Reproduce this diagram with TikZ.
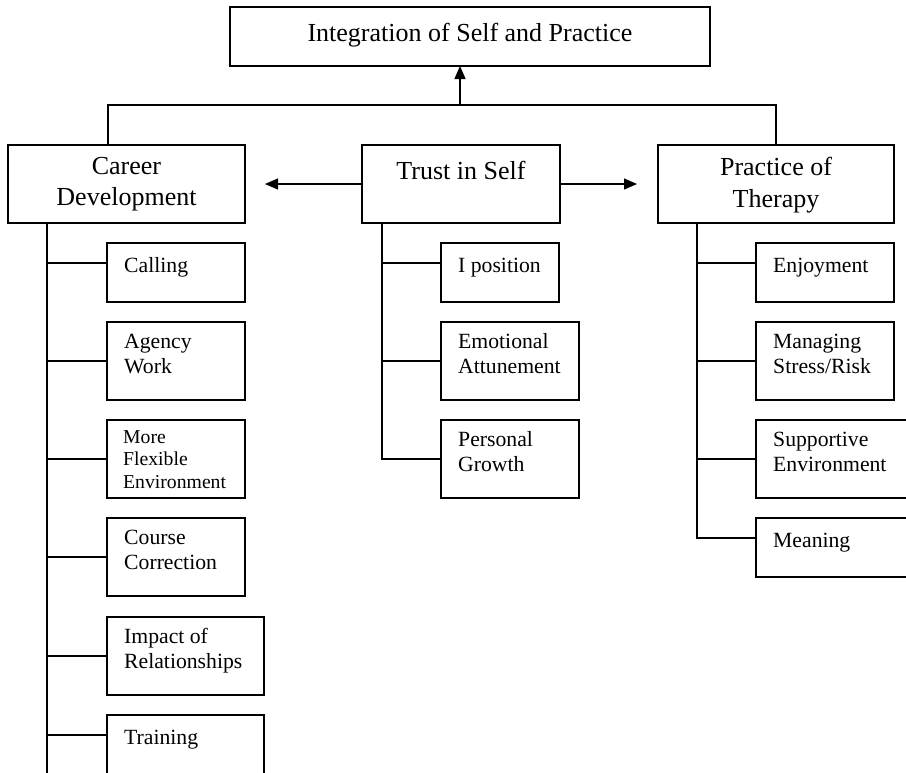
\documentclass[tikz,border=0pt]{standalone}
\usepackage{fontspec}
\setmainfont{Liberation Serif}
\usetikzlibrary{arrows.meta,calc}
\tikzset{
  box/.style={draw, line width=1.3pt, inner sep=0pt, outer sep=0pt, anchor=north west},
  headtxt/.style={font=\fontsize{26}{31.5}\selectfont, align=center, anchor=north,
    inner sep=0pt, execute at begin node=\strut},
  subtxt/.style={font=\fontsize{21.7}{25}\selectfont, align=left, anchor=north west,
    inner sep=0pt, execute at begin node=\strut},
  smalltxt/.style={subtxt, font=\fontsize{19.7}{22.5}\selectfont},
  link/.style={line width=1.3pt},
  arr/.style={link, -{Triangle[length=13pt, width=11pt]}},
}

\begin{document}
\begin{tikzpicture}[x=1pt, y=-1pt]
    \useasboundingbox (0,0) rectangle (906,772);
    % top level
    \node[box, minimum width=480pt, minimum height=59pt] (integ) at (230,7) {};
    \node[headtxt] (integtxt) at ([yshift=-12pt]integ.north) {Integration of Self and Practice};
    % three themes
    \node[box, minimum width=237pt, minimum height=78pt] (career) at (8,145) {};
    \node[box, minimum width=198pt, minimum height=78pt] (trust) at (362,145) {};
    \node[box, minimum width=236pt, minimum height=78pt] (practice) at (658,145) {};
    \node[headtxt] (careertxt) at ([yshift=-12pt]career.north) {Career\\Development};
    \node[headtxt] (trusttxt) at ([yshift=-12pt]trust.north) {Trust in Self};
    \node[headtxt] (practicetxt) at ([yshift=-12pt]practice.north) {Practice of\\Therapy};
    % career development subthemes
    \node[box, minimum width=138pt, minimum height=59pt] (calling) at (107,243) {};
    \node[box, minimum width=138pt, minimum height=78pt] (agency) at (107,322) {};
    \node[box, minimum width=138pt, minimum height=78pt] (flexible) at (107,420) {};
    \node[box, minimum width=138pt, minimum height=78pt] (course) at (107,518) {};
    \node[box, minimum width=157pt, minimum height=78pt] (impact) at (107,617) {};
    \node[box, minimum width=157pt, minimum height=80pt] (training) at (107,715) {};
    \node[subtxt] (callingtxt) at ($(calling.north west)+(17,11.5)$) {Calling};
    \node[subtxt] (agencytxt) at ($(agency.north west)+(17,11.5)$) {Agency\\Work};
    \node[smalltxt] (flexibletxt) at ($(flexible.north west)+(16,10.3)$) {More\\Flexible\\Environment};
    \node[subtxt] (coursetxt) at ($(course.north west)+(17,11.5)$) {Course\\Correction};
    \node[subtxt] (impacttxt) at ($(impact.north west)+(17,11.5)$) {Impact of\\Relationships};
    \node[subtxt] (trainingtxt) at ($(training.north west)+(17,11.5)$) {Training};
    % trust in self subthemes
    \node[box, minimum width=118pt, minimum height=59pt] (ipos) at (441,243) {};
    \node[box, minimum width=138pt, minimum height=78pt] (attune) at (441,322) {};
    \node[box, minimum width=138pt, minimum height=78pt] (growth) at (441,420) {};
    \node[subtxt] (ipostxt) at ($(ipos.north west)+(17,11.5)$) {I position};
    \node[subtxt] (attunetxt) at ($(attune.north west)+(17,11.5)$) {Emotional\\Attunement};
    \node[subtxt] (growthtxt) at ($(growth.north west)+(17,11.5)$) {Personal\\Growth};
    % practice of therapy subthemes
    \node[box, minimum width=138pt, minimum height=59pt] (enjoy) at (756,243) {};
    \node[box, minimum width=138pt, minimum height=78pt] (stress) at (756,322) {};
    \node[box, minimum width=152pt, minimum height=78pt] (support) at (756,420) {};
    \node[box, minimum width=152pt, minimum height=59pt] (meaning) at (756,518) {};
    \node[subtxt] (enjoytxt) at ($(enjoy.north west)+(17,11.5)$) {Enjoyment};
    \node[subtxt] (stresstxt) at ($(stress.north west)+(17,11.5)$) {Managing\\Stress/Risk};
    \node[subtxt] (supporttxt) at ($(support.north west)+(17,11.5)$) {Supportive\\Environment};
    \node[subtxt] (meaningtxt) at ($(meaning.north west)+(17,11.5)$) {Meaning};
    % bar up to the top box
    \coordinate (barL) at (108,105);
    \coordinate (barR) at (776,105);
    \coordinate (barM) at (460,105);
    \draw[link] (barL |- career.north) -- (barL) -- (barR) -- (barR |- practice.north);
    \draw[arr] (barM) -- (barM |- integ.south);
    % side arrows
    \draw[arr] (trust.west) -- ([xshift=20pt]career.east);
    \draw[arr] (trust.east) -- ([xshift=-21pt]practice.west);
    % spines
    \coordinate (cdtop) at (47,223);
    \coordinate (cdbot) at (47,790);
    \coordinate (tstop) at (382,223);
    \coordinate (pttop) at (697,223);
    \draw[link] (cdtop) -- (cdbot);
    \draw[link] (cdtop) |- ($(calling.north west)+(0,20)$);
    \draw[link] (cdtop) |- (agency.west);
    \draw[link] (cdtop) |- (flexible.west);
    \draw[link] (cdtop) |- (course.west);
    \draw[link] (cdtop) |- (impact.west);
    \draw[link] (cdtop) |- ($(training.north west)+(0,20)$);
    \draw[link] (tstop) |- ($(ipos.north west)+(0,20)$);
    \draw[link] (tstop) |- (attune.west);
    \draw[link] (tstop) |- (growth.west);
    \draw[link] (pttop) |- ($(enjoy.north west)+(0,20)$);
    \draw[link] (pttop) |- (stress.west);
    \draw[link] (pttop) |- (support.west);
    \draw[link] (pttop) |- ($(meaning.north west)+(0,20)$);
  \end{tikzpicture}
\end{document}
